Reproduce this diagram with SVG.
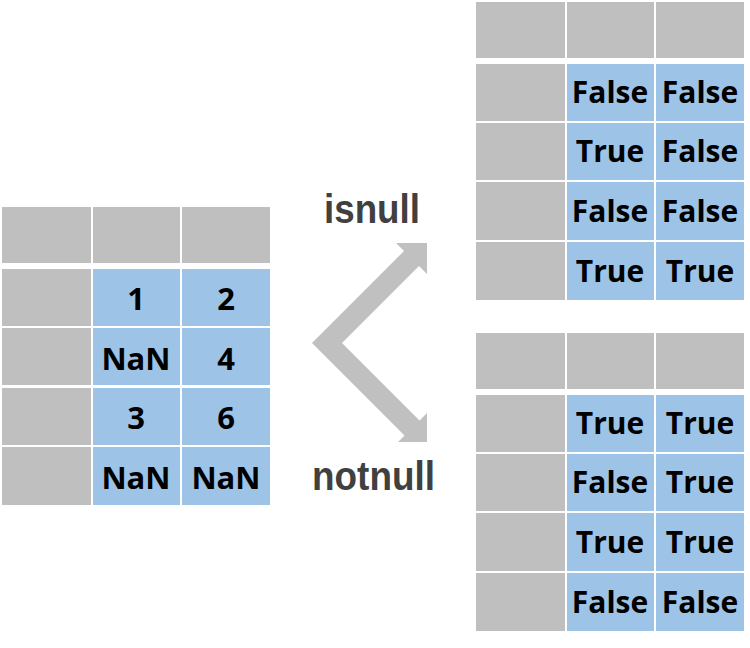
<svg xmlns="http://www.w3.org/2000/svg" width="750" height="648" viewBox="0 0 750 648">
<style>
.g{fill:#bfbfbf}
.b{fill:#9dc3e6}
.t{font-family:"Open Sans","Liberation Sans",sans-serif;font-weight:bold;fill:#000;text-anchor:middle}
.l{font-size:31px}
.r{font-size:30px}
.lab{font-family:"Liberation Sans",Arial,sans-serif;font-weight:bold;font-size:40px;fill:#404040}
.arr{fill:#c0c0c0}
</style>
<rect width="750" height="648" fill="#fff"/>
<g id="table-input">
<rect class="g" x="2" y="207" width="89" height="56"/>
<rect class="g" x="93" y="207" width="87" height="56"/>
<rect class="g" x="182" y="207" width="88" height="56"/>
<rect class="g" x="2" y="269" width="89" height="57"/>
<rect class="g" x="2" y="328" width="89" height="57"/>
<rect class="g" x="2" y="388" width="89" height="57"/>
<rect class="g" x="2" y="447" width="89" height="58"/>
<rect class="b" x="93" y="269" width="87" height="57"/>
<rect class="b" x="182" y="269" width="88" height="57"/>
<rect class="b" x="93" y="328" width="87" height="57"/>
<rect class="b" x="182" y="328" width="88" height="57"/>
<rect class="b" x="93" y="388" width="87" height="57"/>
<rect class="b" x="182" y="388" width="88" height="57"/>
<rect class="b" x="93" y="447" width="87" height="58"/>
<rect class="b" x="182" y="447" width="88" height="58"/>
<text class="t l" x="136" y="310">1</text>
<text class="t l" x="226" y="310">2</text>
<text class="t l" x="136" y="370">NaN</text>
<text class="t l" x="226" y="370">4</text>
<text class="t l" x="136" y="429">3</text>
<text class="t l" x="226" y="429">6</text>
<text class="t l" x="136" y="489">NaN</text>
<text class="t l" x="226" y="489">NaN</text>
</g>
<g id="table-isnull">
<rect class="g" x="476" y="2" width="89" height="56"/>
<rect class="g" x="567" y="2" width="87" height="56"/>
<rect class="g" x="656" y="2" width="88" height="56"/>
<rect class="g" x="476" y="64" width="89" height="57"/>
<rect class="g" x="476" y="123" width="89" height="57"/>
<rect class="g" x="476" y="182" width="89" height="58"/>
<rect class="g" x="476" y="242" width="89" height="58"/>
<rect class="b" x="567" y="64" width="87" height="57"/>
<rect class="b" x="656" y="64" width="88" height="57"/>
<rect class="b" x="567" y="123" width="87" height="57"/>
<rect class="b" x="656" y="123" width="88" height="57"/>
<rect class="b" x="567" y="182" width="87" height="58"/>
<rect class="b" x="656" y="182" width="88" height="58"/>
<rect class="b" x="567" y="242" width="87" height="58"/>
<rect class="b" x="656" y="242" width="88" height="58"/>
<text class="t r" x="610" y="103">False</text>
<text class="t r" x="700" y="103">False</text>
<text class="t r" x="610" y="162">True</text>
<text class="t r" x="700" y="162">False</text>
<text class="t r" x="610" y="222">False</text>
<text class="t r" x="700" y="222">False</text>
<text class="t r" x="610" y="282">True</text>
<text class="t r" x="700" y="282">True</text>
</g>
<g id="table-notnull">
<rect class="g" x="476" y="333" width="89" height="56"/>
<rect class="g" x="567" y="333" width="87" height="56"/>
<rect class="g" x="656" y="333" width="88" height="56"/>
<rect class="g" x="476" y="395" width="89" height="57"/>
<rect class="g" x="476" y="454" width="89" height="57"/>
<rect class="g" x="476" y="513" width="89" height="58"/>
<rect class="g" x="476" y="573" width="89" height="58"/>
<rect class="b" x="567" y="395" width="87" height="57"/>
<rect class="b" x="656" y="395" width="88" height="57"/>
<rect class="b" x="567" y="454" width="87" height="57"/>
<rect class="b" x="656" y="454" width="88" height="57"/>
<rect class="b" x="567" y="513" width="87" height="58"/>
<rect class="b" x="656" y="513" width="88" height="58"/>
<rect class="b" x="567" y="573" width="87" height="58"/>
<rect class="b" x="656" y="573" width="88" height="58"/>
<text class="t r" x="610" y="434">True</text>
<text class="t r" x="700" y="434">True</text>
<text class="t r" x="610" y="493">False</text>
<text class="t r" x="700" y="493">True</text>
<text class="t r" x="610" y="553">True</text>
<text class="t r" x="700" y="553">True</text>
<text class="t r" x="610" y="613">False</text>
<text class="t r" x="700" y="613">False</text>
</g>
<g id="connectors">
<path class="arr" d="M312,343 L404,251 L396,243 L427,243 L427,274 L419,266 L342,343 L419.5,420.5 L427,413 L427,442 L398,442 L404.5,435.5 Z"/>
<text class="lab" x="324" y="223" textLength="96" lengthAdjust="spacingAndGlyphs">isnull</text>
<text class="lab" x="312" y="490" textLength="123" lengthAdjust="spacingAndGlyphs">notnull</text>
</g>
</svg>
